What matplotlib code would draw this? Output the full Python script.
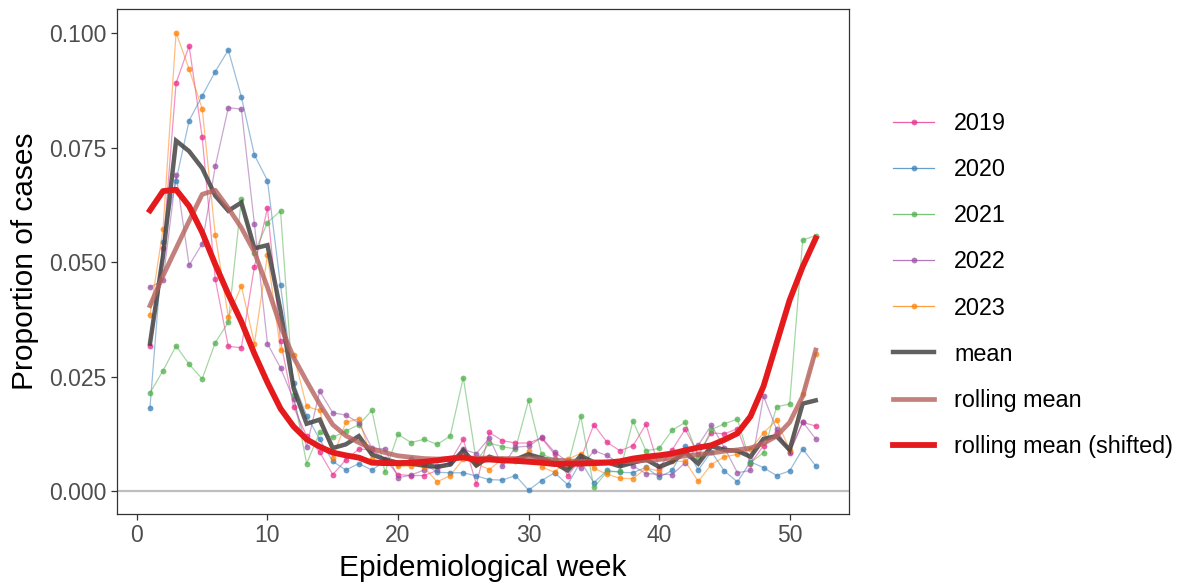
import matplotlib
matplotlib.use("Agg")
import matplotlib.pyplot as plt
from matplotlib.lines import Line2D
import numpy as np

plt.rcParams["font.family"] = ["Liberation Sans", "DejaVu Sans"]

# ---- data ----
weeks = list(range(1, 53))

y2019 = [0.0317, 0.0530, 0.0891, 0.0972, 0.0773, 0.0463, 0.0316, 0.0313, 0.0490, 0.0618,
         0.0328, 0.0184, 0.0120, 0.0085, 0.0036, 0.0068, 0.0092, 0.0090, 0.0070, 0.0036,
         0.0034, 0.0034, 0.0045, 0.0065, 0.0113, 0.0015, 0.0128, 0.0110, 0.0105, 0.0105,
         0.0116, 0.0080, 0.0034, 0.0070, 0.0145, 0.0107, 0.0088, 0.0099, 0.0146, 0.0050,
         0.0090, 0.0135, 0.0080, 0.0127, 0.0125, 0.0136, 0.0060, 0.0099, 0.0130, 0.0083,
         0.0150, 0.0142]
y2020 = [0.0182, 0.0544, 0.0678, 0.0809, 0.0863, 0.0916, 0.0963, 0.0861, 0.0734, 0.0678,
         0.0449, 0.0237, 0.0165, 0.0113, 0.0065, 0.0046, 0.0060, 0.0046, 0.0065, 0.0060,
         0.0069, 0.0060, 0.0041, 0.0040, 0.0040, 0.0033, 0.0025, 0.0024, 0.0034, 0.0002,
         0.0023, 0.0040, 0.0014, 0.0065, 0.0018, 0.0045, 0.0041, 0.0040, 0.0052, 0.0030,
         0.0045, 0.0098, 0.0046, 0.0086, 0.0044, 0.0020, 0.0064, 0.0051, 0.0034, 0.0044,
         0.0092, 0.0055]
y2021 = [0.0214, 0.0263, 0.0317, 0.0277, 0.0245, 0.0324, 0.0369, 0.0637, 0.0520, 0.0586,
         0.0612, 0.0210, 0.0060, 0.0128, 0.0117, 0.0131, 0.0145, 0.0176, 0.0041, 0.0124,
         0.0106, 0.0113, 0.0102, 0.0120, 0.0248, 0.0065, 0.0105, 0.0097, 0.0092, 0.0198,
         0.0080, 0.0070, 0.0055, 0.0164, 0.0008, 0.0042, 0.0043, 0.0153, 0.0088, 0.0093,
         0.0133, 0.0150, 0.0075, 0.0134, 0.0147, 0.0157, 0.0062, 0.0084, 0.0184, 0.0190,
         0.0548, 0.0558]
y2022 = [0.0445, 0.0460, 0.0691, 0.0493, 0.0540, 0.0709, 0.0837, 0.0834, 0.0583, 0.0322,
         0.0269, 0.0200, 0.0097, 0.0218, 0.0171, 0.0166, 0.0149, 0.0094, 0.0092, 0.0029,
         0.0035, 0.0046, 0.0055, 0.0062, 0.0091, 0.0082, 0.0116, 0.0054, 0.0096, 0.0098,
         0.0117, 0.0085, 0.0064, 0.0051, 0.0088, 0.0078, 0.0060, 0.0055, 0.0038, 0.0037,
         0.0036, 0.0062, 0.0100, 0.0144, 0.0095, 0.0040, 0.0045, 0.0207, 0.0135, 0.0085,
         0.0151, 0.0114]
y2023 = [0.0385, 0.0572, 0.1001, 0.0921, 0.0835, 0.0560, 0.0380, 0.0448, 0.0322, 0.0515,
         0.0308, 0.0298, 0.0185, 0.0176, 0.0073, 0.0150, 0.0158, 0.0070, 0.0064, 0.0054,
         0.0055, 0.0052, 0.0020, 0.0034, 0.0070, 0.0060, 0.0047, 0.0070, 0.0066, 0.0087,
         0.0053, 0.0041, 0.0070, 0.0082, 0.0050, 0.0037, 0.0028, 0.0027, 0.0050, 0.0044,
         0.0065, 0.0065, 0.0021, 0.0058, 0.0075, 0.0080, 0.0091, 0.0127, 0.0155, 0.0090,
         0.0212, 0.0300]

mean_line = [0.0322, 0.0514, 0.0765, 0.0742, 0.0705, 0.0645, 0.0612, 0.0630, 0.0530, 0.0537,
             0.0394, 0.0225, 0.0147, 0.0156, 0.0094, 0.0102, 0.0120, 0.0080, 0.0069, 0.0062,
             0.0060, 0.0056, 0.0053, 0.0058, 0.0089, 0.0056, 0.0075, 0.0065, 0.0069, 0.0080,
             0.0072, 0.0061, 0.0045, 0.0077, 0.0063, 0.0063, 0.0054, 0.0062, 0.0069, 0.0053,
             0.0064, 0.0085, 0.0060, 0.0098, 0.0090, 0.0088, 0.0075, 0.0114, 0.0120, 0.0090,
             0.0191, 0.0198]
rolling_mean = [0.0405, 0.0470, 0.0530, 0.0590, 0.0648, 0.0657, 0.0618, 0.0575, 0.0522, 0.0445,
                0.0360, 0.0292, 0.0240, 0.0190, 0.0145, 0.0121, 0.0106, 0.0092, 0.0084, 0.0077,
                0.0074, 0.0071, 0.0070, 0.0071, 0.0072, 0.0072, 0.0072, 0.0071, 0.0071, 0.0071,
                0.0070, 0.0068, 0.0066, 0.0065, 0.0064, 0.0064, 0.0064, 0.0065, 0.0067, 0.0069,
                0.0072, 0.0077, 0.0080, 0.0083, 0.0087, 0.0090, 0.0094, 0.0104, 0.0120, 0.0150,
                0.0207, 0.0308]
rolling_shifted = [0.0613, 0.0655, 0.0658, 0.0622, 0.0565, 0.0495, 0.0430, 0.0370, 0.0300, 0.0237,
                   0.0180, 0.0141, 0.0113, 0.0097, 0.0084, 0.0078, 0.0073, 0.0062, 0.0061, 0.0061,
                   0.0062, 0.0064, 0.0067, 0.0071, 0.0074, 0.0068, 0.0069, 0.0067, 0.0066, 0.0064,
                   0.0062, 0.0059, 0.0060, 0.0060, 0.0061, 0.0062, 0.0065, 0.0071, 0.0075, 0.0078,
                   0.0082, 0.0089, 0.0095, 0.0100, 0.0112, 0.0126, 0.0163, 0.0229, 0.0323, 0.0417,
                   0.0490, 0.0552]

years = ["2019", "2020", "2021", "2022", "2023"]
year_series = [y2019, y2020, y2021, y2022, y2023]
year_colors = ["#E7298A", "#377EB8", "#4DAF4A", "#984EA3", "#FF7F00"]

MEAN_COLOR = "#444444"
ROLL_COLOR = "#B5615C"
SHIFT_COLOR = "#E41A1C"

fig = plt.figure(figsize=(11.81, 5.84), dpi=100)
ax = fig.add_axes([0.0988, 0.1199, 0.6201, 0.8642])

ax.axhline(0, color="#BEBEBE", lw=1.6, zorder=1)

for vals, col in zip(year_series, year_colors):
    ax.plot(weeks, vals, color=col, lw=0.9, alpha=0.5, zorder=2)
    ax.plot(weeks, vals, ls="none", marker="o", ms=4.2, mec="none",
            color=col, alpha=0.75, zorder=3)

ax.plot(weeks, mean_line, color=MEAN_COLOR, lw=3.2, alpha=0.85, zorder=4,
        solid_joinstyle="miter")
ax.plot(weeks, rolling_mean, color=ROLL_COLOR, lw=3.4, alpha=0.8, zorder=5)
ax.plot(weeks, rolling_shifted, color=SHIFT_COLOR, lw=4.2, zorder=6)

ax.set_xlim(-1.55, 54.55)
ax.set_ylim(-0.005, 0.1052)
ax.set_xticks([0, 10, 20, 30, 40, 50])
ax.set_yticks([0.0, 0.025, 0.05, 0.075, 0.1])
ax.set_yticklabels(["0.000", "0.025", "0.050", "0.075", "0.100"])

for sp in ax.spines.values():
    sp.set_color("#333333")
    sp.set_linewidth(0.9)
ax.tick_params(axis="both", direction="out", length=4.5, width=0.9,
               color="#333333", labelcolor="#4D4D4D", labelsize=16.5, pad=3)

ax.set_xlabel("Epidemiological week", fontsize=21.5, color="black", labelpad=5)
ax.set_ylabel("Proportion of cases", fontsize=21.5, color="black", labelpad=7)

# legend in ggplot style
handles = []
for y, col in zip(years, year_colors):
    handles.append(Line2D([], [], color=col, lw=0.9, marker="o", ms=4.2,
                          mec="none", alpha=0.75, label=y))
handles.append(Line2D([], [], color=MEAN_COLOR, lw=3.2, alpha=0.85, label="mean"))
handles.append(Line2D([], [], color=ROLL_COLOR, lw=3.4, alpha=0.8, label="rolling mean"))
handles.append(Line2D([], [], color=SHIFT_COLOR, lw=4.2, label="rolling mean (shifted)"))

fig.legend(handles=handles, loc="upper left", bbox_to_anchor=(0.7485, 0.824),
           frameon=False, fontsize=16.8, handlelength=1.75, handletextpad=0.85,
           labelspacing=0.99, borderaxespad=0)

fig.savefig("out.png", dpi=100, facecolor="white")
